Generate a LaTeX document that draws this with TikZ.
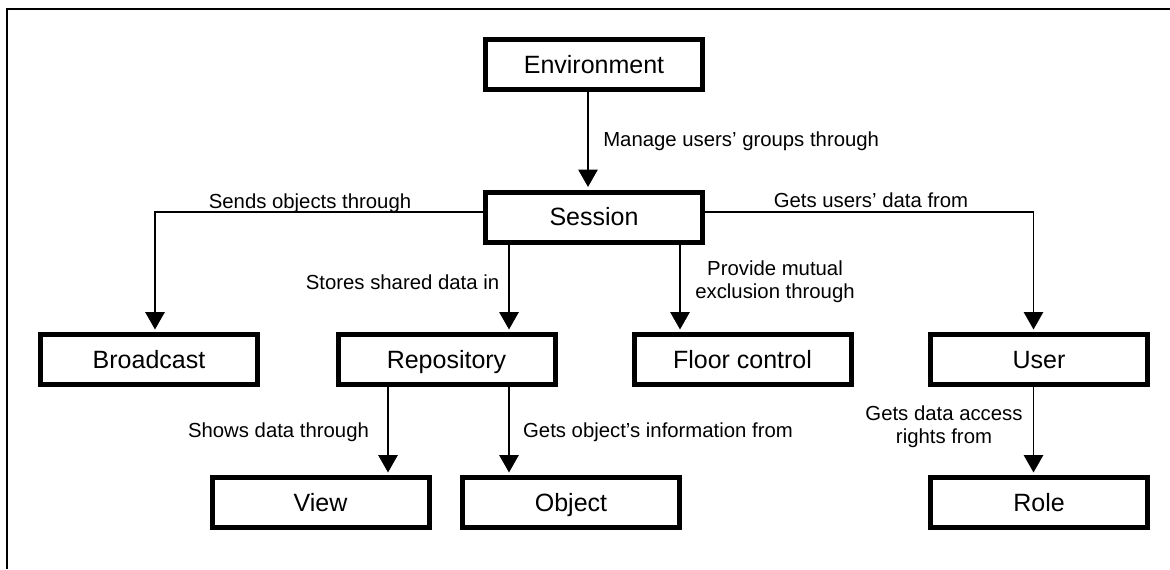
\documentclass[tikz,border=0pt]{standalone}
\usepackage{fontspec}
\setmainfont{Liberation Sans}
\usetikzlibrary{arrows.meta}
\tikzset{
  box/.style={draw, line width=3.75pt, minimum width=162.75pt, minimum height=37.5pt,
    inner sep=0pt, text height=13.4pt, text depth=0pt, font=\fontsize{18.75}{22}\selectfont},
  conn/.style={line width=1.1pt, -{Triangle[width=14.5pt,length=13pt]}, shorten >=1.9pt},
  lbl/.style={font=\fontsize{15.25}{17.5}\selectfont, inner sep=0pt},
  frame/.style={line width=1.5pt},
}
\begin{document}
\begin{tikzpicture}[x=0.75pt, y=-0.75pt]
\useasboundingbox (0,0) rectangle (1170,569);
% frame (top and left edges only)
\draw[frame] (1170,9) -- (7,9) -- (7,569);

% boxes
\node[box] (env) at (594,64.5) {Environment};
\node[box] (ses) at (594,217) {Session};
\node[box] (bc)  at (149,359.5) {Broadcast};
\node[box] (rep) at (446.5,359.5) {Repository};
\node[box] (fc)  at (742.5,359.5) {Floor control};
\node[box] (usr) at (1039,359.5) {User};
\node[box] (view) at (320.5,502.5) {View};
\node[box] (obj) at (571,502.5) {Object};
\node[box] (role) at (1039,502.5) {Role};

% connectors
\draw[conn] ([xshift=-4.5pt]env.south) -- ([xshift=-4.5pt]ses.north);
\draw[conn] ([yshift=3.75pt]ses.west) -| ([xshift=4.5pt]bc.north);
\draw[conn] ([xshift=-63.75pt]ses.south) -- ([xshift=46.875pt]rep.north);
\draw[conn] ([xshift=64.5pt]ses.south) -- ([xshift=-46.875pt]fc.north);
\draw[conn] ([yshift=3.75pt]ses.east) -| ([xshift=-4.125pt]usr.north);
\draw[conn] ([xshift=-43.875pt]rep.south) -- ([xshift=50.625pt]view.north);
\draw[conn] ([xshift=46.875pt]rep.south) -- ([xshift=-46.5pt]obj.north);
\draw[conn] ([xshift=-4.125pt]usr.south) -- ([xshift=-4.125pt]role.north);

% labels
\node[lbl, anchor=base west] (lmanage) at (603,146) {Manage users’ groups through};
\node[lbl, anchor=base] (lsends) at (310,208) {Sends objects through};
\node[lbl, anchor=base] (lgets) at (871,207.5) {Gets users’ data from};
\node[lbl, anchor=base] (lstores) at (402.5,289) {Stores shared data in};
\node[lbl, align=center] (lmutual) at (775,281.5) {Provide mutual\\exclusion through};
\node[lbl, anchor=base] (lshows) at (278.5,437) {Shows data through};
\node[lbl, anchor=base] (lobjinfo) at (658,437) {Gets object’s information from};
\node[lbl, align=center] (laccess) at (944,427) {Gets data access\\rights from};
\end{tikzpicture}
\end{document}
